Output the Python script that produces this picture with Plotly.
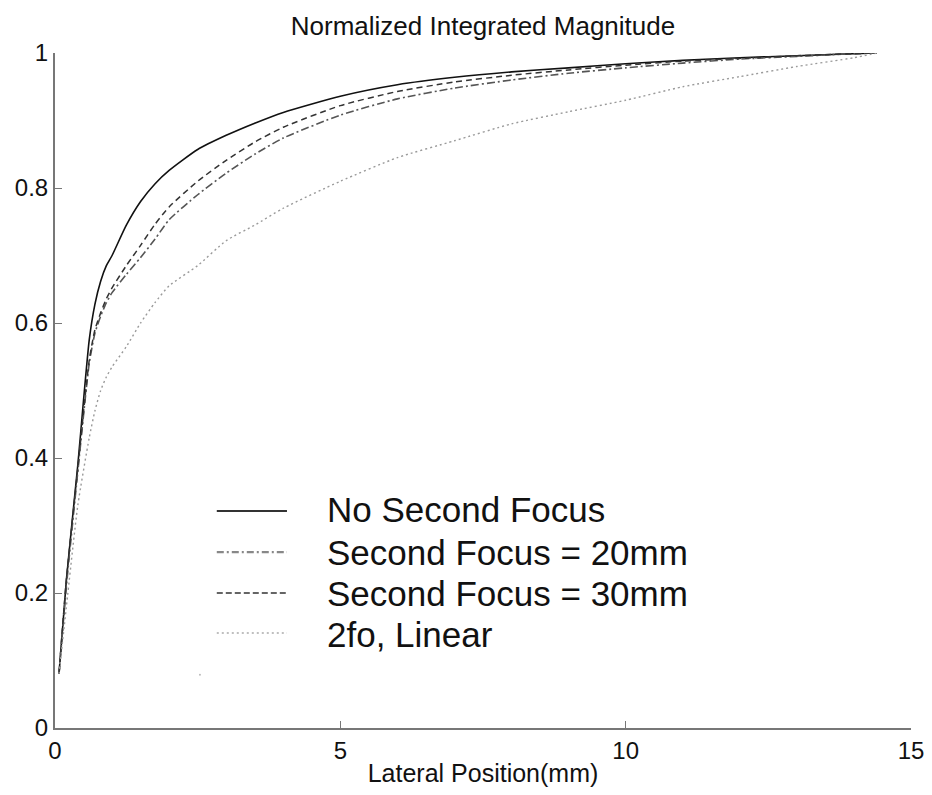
import plotly.graph_objects as go

x = [0.07, 0.2, 0.4, 0.6, 0.7, 0.8, 0.9, 1.0, 1.25, 1.5, 1.75, 2.0, 2.5, 3.0, 3.5, 4.0,
     5.0, 6.0, 7.0, 8.0, 9.0, 10.0, 11.0, 12.0, 13.0, 14.0, 14.4]

no_second_focus = [0.08, 0.22, 0.39, 0.575, 0.628, 0.662, 0.685, 0.70, 0.745, 0.78,
                   0.806, 0.826, 0.857, 0.878, 0.896, 0.912, 0.936, 0.953, 0.964,
                   0.972, 0.978, 0.984, 0.989, 0.993, 0.996, 0.999, 1.0]
focus_30mm = [0.08, 0.22, 0.385, 0.545, 0.59, 0.615, 0.636, 0.652, 0.685, 0.715,
              0.746, 0.772, 0.81, 0.841, 0.868, 0.89, 0.922, 0.943, 0.957, 0.967,
              0.975, 0.982, 0.988, 0.992, 0.996, 0.999, 1.0]
focus_20mm = [0.08, 0.21, 0.38, 0.54, 0.585, 0.61, 0.63, 0.645, 0.672, 0.697,
              0.724, 0.753, 0.79, 0.822, 0.85, 0.874, 0.908, 0.932, 0.948, 0.96,
              0.97, 0.978, 0.985, 0.991, 0.995, 0.999, 1.0]
linear_2fo = [0.08, 0.18, 0.33, 0.43, 0.47, 0.50, 0.52, 0.535, 0.565, 0.60, 0.63,
              0.655, 0.685, 0.722, 0.745, 0.77, 0.81, 0.845, 0.87, 0.895, 0.913,
              0.93, 0.95, 0.965, 0.98, 0.993, 1.0]

stray_x = [2.54]
stray_y = [0.079]

names = ["No Second Focus", "Second Focus = 20mm", "Second Focus = 30mm", "2fo, Linear"]
series = [no_second_focus, focus_20mm, focus_30mm, linear_2fo]
styles = [
    dict(color="#111111", width=1.6, dash="solid"),
    dict(color="#555555", width=1.6, dash="8px,3px,2px,3px"),
    dict(color="#333333", width=1.5, dash="6px,4px"),
    dict(color="#9a9a9a", width=1.4, dash="2px,3px"),
]

fig = go.Figure()
for nm, ys, st in zip(names, series, styles):
    fig.add_trace(go.Scatter(x=x, y=ys, mode="lines", name=nm, showlegend=False,
                             line=dict(shape="spline", smoothing=0.6, **st)))
fig.add_trace(go.Scatter(x=stray_x, y=stray_y, mode="markers", showlegend=False,
                         marker=dict(color="#bbbbbb", size=2)))

# manual legend (paper coordinates of the plot area)
legend_text_y = [0.323, 0.2607, 0.200, 0.1378]
legend_line_y = [0.3215, 0.2607, 0.200, 0.1407]
legend_styles = [
    dict(color="#333333", width=1.8, dash="solid"),
    dict(color="#888888", width=2.2, dash="7px,3px,2px,3px"),
    dict(color="#333333", width=1.5, dash="6px,3px"),
    dict(color="#aaaaaa", width=1.5, dash="2px,3px"),
]
for nm, ty, ly, st in zip(names, legend_text_y, legend_line_y, legend_styles):
    fig.add_shape(type="line", xref="paper", yref="paper", x0=0.189, x1=0.271,
                  y0=ly, y1=ly, line=st)
    fig.add_annotation(text=nm, xref="paper", yref="paper", x=0.3154, y=ty,
                       xanchor="left", yanchor="middle", showarrow=False,
                       font=dict(size=35, color="#111111"))

fig.update_layout(
    width=932, height=795,
    margin=dict(l=55, r=21, t=53, b=67, autoexpand=False),
    paper_bgcolor="white", plot_bgcolor="white",
    font=dict(family="Liberation Sans, Arial, sans-serif", color="#111111"),
    title=dict(text="Normalized Integrated Magnitude", x=0.5, xref="paper",
               xanchor="center", y=1 - 26 / 795, yanchor="middle",
               font=dict(size=26)),
    showlegend=False,
)
fig.update_xaxes(range=[0, 15], tickvals=[0, 5, 10, 15], ticktext=["0", "5", "10", "15"],
                 showgrid=False, zeroline=False, showline=True, linecolor="#777777",
                 linewidth=2, ticks="inside", ticklen=7, tickcolor="#777777",
                 tickfont=dict(size=24), automargin=False,
                 title=dict(text="Lateral Position(mm)", font=dict(size=25), standoff=2))
fig.update_yaxes(range=[0, 1], tickvals=[0, 0.2, 0.4, 0.6, 0.8, 1],
                 ticktext=["0", "0.2", "0.4", "0.6", "0.8", "1"],
                 showgrid=False, zeroline=False, showline=True, linecolor="#777777",
                 linewidth=2, ticks="inside", ticklen=7, tickcolor="#777777",
                 tickfont=dict(size=24), automargin=False)

fig.write_html("out.html")
